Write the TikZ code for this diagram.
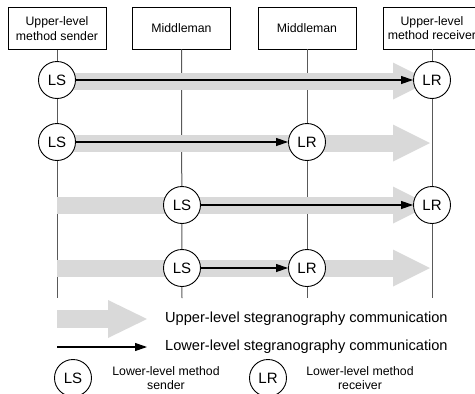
\documentclass[tikz,border=0pt]{standalone}
\usepackage{fontspec}
\setmainfont{Liberation Sans}
\usetikzlibrary{arrows.meta}
\definecolor{band}{HTML}{D9D9D9}
\begin{document}
\begin{tikzpicture}[x=1pt,y=-1pt,
 hdr/.style={draw, line width=0.8pt, fill=white, minimum width=98pt, minimum height=42pt, align=center, font=\fontsize{12.3}{14.5}\selectfont, inner sep=0pt},
 life/.style={draw=black!65, line width=1pt},
 party/.style={circle, draw, line width=0.9pt, fill=white, minimum size=37pt, inner sep=0pt, font=\fontsize{15}{15}\selectfont},
 fat/.style={draw=band, line width=17pt, -{Triangle[length=37pt,width=37pt,line width=0pt]}},
 fatlegend/.style={draw=band, line width=18pt, -{Triangle[length=39pt,width=38pt,line width=0pt]}},
 msg/.style={line width=1.1pt, -{Triangle[length=12pt,width=8pt]}},
 legtext/.style={anchor=west, font=\fontsize{14.6}{16}\selectfont, inner sep=0pt},
 smalltext/.style={align=center, font=\fontsize{12.3}{14}\selectfont, inner sep=0pt}]
\useasboundingbox (0,0) rectangle (475,394);
\clip (0,0) rectangle (475,394);
% header boxes
\node[hdr] (h1) at (57,28.5) {Upper-level\\method sender};
\node[hdr] (h2) at (181.5,28) {Middleman};
\node[hdr] (h3) at (307,28) {Middleman};
\node[hdr] (h4) at (432,28) {Upper-level\\method receiver};
% lifeline ends
\coordinate (e1) at (57,298);
\coordinate (e2) at (182,298);
\coordinate (e3) at (307,298);
\coordinate (e4) at (432,298);
\draw[life] (h1.south) -- (e1);
\draw[life] (h2.south) -- (e2);
\draw[life] (h3.south) -- (e3);
\draw[life] (h4.south) -- (e4);
% upper-level (gray) arrows
\coordinate (g1s) at (57,81); \coordinate (g1e) at (430,81);
\coordinate (g2s) at (57,143); \coordinate (g2e) at (430,143);
\coordinate (g3s) at (57,205); \coordinate (g3e) at (430,205);
\coordinate (g4s) at (57,268); \coordinate (g4e) at (430,268);
\draw[fat] (g1s) -- (g1e);
\draw[fat] (g2s) -- (g2e);
\draw[fat] (g3s) -- (g3e);
\draw[fat] (g4s) -- (g4e);
% lower-level nodes
\node[party] (s1) at (57,80) {LS};
\node[party] (r1) at (432,80) {LR};
\node[party] (s2) at (57,142) {LS};
\node[party] (r2) at (307,142) {LR};
\node[party] (s3) at (182,205) {LS};
\node[party] (r3) at (432,205) {LR};
\node[party] (s4) at (182,268) {LS};
\node[party] (r4) at (307,268) {LR};
\draw[msg] (s1) -- (r1);
\draw[msg] (s2) -- (r2);
\draw[msg] (s3) -- (r3);
\draw[msg] (s4) -- (r4);
% legend
\coordinate (lg1s) at (57,319); \coordinate (lg1e) at (147,319);
\coordinate (lg2s) at (57,347); \coordinate (lg2e) at (147,347);
\draw[fatlegend] (lg1s) -- (lg1e);
\draw[msg] (lg2s) -- (lg2e);
\node[legtext] (t1) at (165,319) {Upper-level stegranography communication};
\node[legtext] (t2) at (165,347) {Lower-level stegranography communication};
\node[party] (ls) at (73,378) {LS};
\node[smalltext] (lst) at (166,378) {Lower-level method\\sender};
\node[party] (lr) at (268,378) {LR};
\node[smalltext] (lrt) at (360,378) {Lower-level method\\receiver};
\end{tikzpicture}
\end{document}
